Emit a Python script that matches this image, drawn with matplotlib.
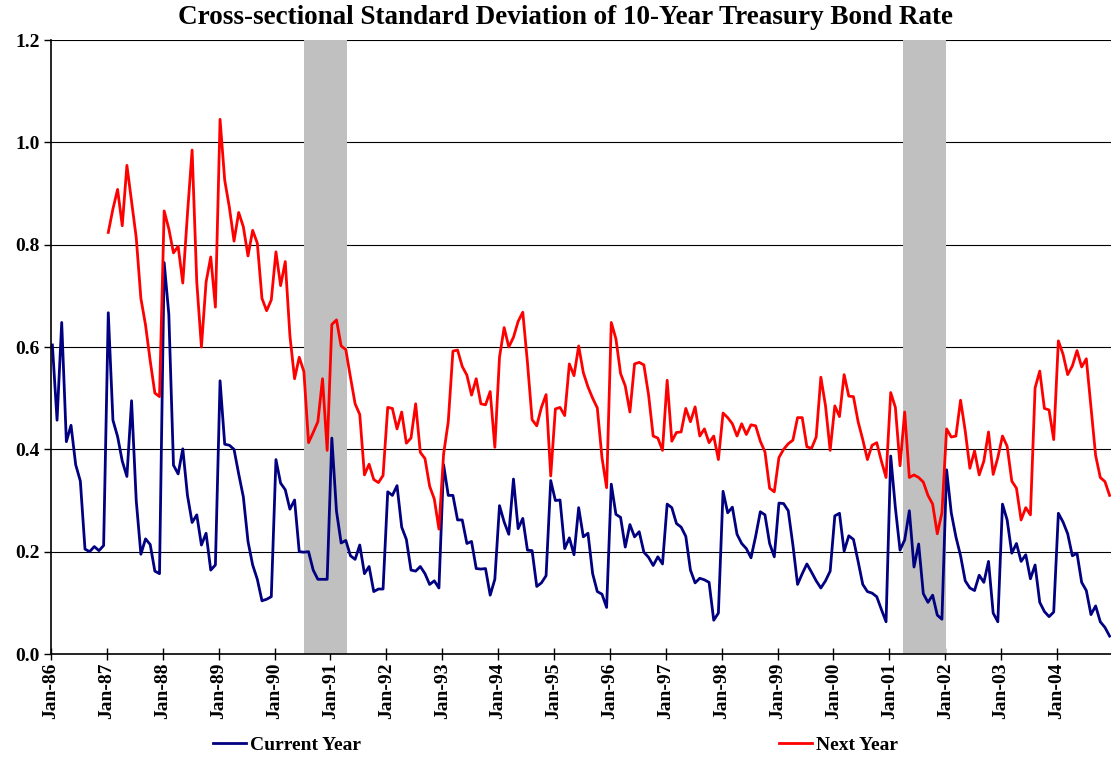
import numpy as np
import matplotlib
matplotlib.use("Agg")
import matplotlib.pyplot as plt

# monthly data, Jan-86 .. Dec-04
current_year = [
    0.604, 0.457, 0.648, 0.415, 0.447, 0.370, 0.338, 0.205, 0.200, 0.210, 0.202, 0.212,
    0.667, 0.457, 0.425, 0.377, 0.347, 0.495, 0.300, 0.195, 0.225, 0.214, 0.162, 0.157,
    0.765, 0.664, 0.369, 0.352, 0.401, 0.310, 0.257, 0.272, 0.213, 0.236, 0.164, 0.174,
    0.534, 0.410, 0.408, 0.400, 0.352, 0.307, 0.220, 0.174, 0.146, 0.104, 0.107, 0.112,
    0.380, 0.334, 0.321, 0.283, 0.301, 0.200, 0.199, 0.200, 0.164, 0.146, 0.146, 0.146,
    0.422, 0.279, 0.217, 0.222, 0.192, 0.185, 0.213, 0.157, 0.171, 0.122, 0.127, 0.127,
    0.317, 0.310, 0.329, 0.248, 0.224, 0.164, 0.162, 0.171, 0.157, 0.136, 0.143, 0.129,
    0.370, 0.310, 0.310, 0.262, 0.262, 0.216, 0.220, 0.167, 0.166, 0.167, 0.115, 0.146,
    0.290, 0.258, 0.234, 0.342, 0.245, 0.265, 0.203, 0.202, 0.132, 0.139, 0.153, 0.339,
    0.300, 0.301, 0.206, 0.227, 0.194, 0.286, 0.229, 0.236, 0.157, 0.122, 0.117, 0.091,
    0.332, 0.273, 0.267, 0.209, 0.253, 0.229, 0.239, 0.199, 0.189, 0.173, 0.190, 0.176,
    0.293, 0.286, 0.255, 0.248, 0.230, 0.164, 0.139, 0.148, 0.145, 0.140, 0.066, 0.080,
    0.318, 0.276, 0.287, 0.234, 0.216, 0.206, 0.188, 0.230, 0.278, 0.272, 0.216, 0.190,
    0.295, 0.294, 0.280, 0.213, 0.136, 0.157, 0.176, 0.160, 0.143, 0.129, 0.143, 0.162,
    0.270, 0.275, 0.201, 0.231, 0.224, 0.181, 0.136, 0.122, 0.119, 0.112, 0.087, 0.063,
    0.387, 0.286, 0.203, 0.223, 0.280, 0.170, 0.215, 0.118, 0.101, 0.115, 0.076, 0.068,
    0.360, 0.276, 0.229, 0.192, 0.143, 0.129, 0.124, 0.154, 0.140, 0.181, 0.080, 0.063,
    0.293, 0.262, 0.197, 0.216, 0.181, 0.194, 0.147, 0.174, 0.101, 0.083, 0.073, 0.082,
    0.275, 0.258, 0.235, 0.192, 0.197, 0.140, 0.124, 0.077, 0.094, 0.063, 0.052, 0.035,
]

# starts Jan-87
next_year = [
    0.824, 0.870, 0.908, 0.837, 0.955, 0.885, 0.814, 0.695, 0.643, 0.573, 0.510, 0.503,
    0.866, 0.831, 0.784, 0.797, 0.725, 0.860, 0.985, 0.727, 0.600, 0.727, 0.776, 0.678,
    1.045, 0.926, 0.873, 0.807, 0.863, 0.835, 0.778, 0.828, 0.803, 0.695, 0.671, 0.692,
    0.786, 0.720, 0.767, 0.622, 0.538, 0.580, 0.552, 0.413, 0.433, 0.454, 0.538, 0.398,
    0.644, 0.653, 0.602, 0.595, 0.541, 0.489, 0.468, 0.350, 0.371, 0.341, 0.335, 0.349,
    0.482, 0.480, 0.440, 0.473, 0.412, 0.422, 0.489, 0.394, 0.382, 0.328, 0.303, 0.244,
    0.391, 0.454, 0.592, 0.594, 0.562, 0.545, 0.506, 0.538, 0.489, 0.487, 0.513, 0.404,
    0.580, 0.638, 0.600, 0.619, 0.650, 0.668, 0.570, 0.458, 0.446, 0.482, 0.507, 0.348,
    0.479, 0.482, 0.466, 0.567, 0.544, 0.602, 0.550, 0.522, 0.500, 0.481, 0.384, 0.325,
    0.648, 0.616, 0.548, 0.524, 0.473, 0.567, 0.570, 0.565, 0.507, 0.426, 0.422, 0.398,
    0.535, 0.416, 0.433, 0.434, 0.480, 0.454, 0.483, 0.426, 0.440, 0.413, 0.426, 0.380,
    0.471, 0.462, 0.450, 0.426, 0.450, 0.429, 0.448, 0.446, 0.416, 0.395, 0.324, 0.317,
    0.384, 0.400, 0.411, 0.418, 0.462, 0.462, 0.405, 0.402, 0.424, 0.541, 0.485, 0.398,
    0.485, 0.464, 0.546, 0.504, 0.503, 0.454, 0.419, 0.380, 0.408, 0.413, 0.377, 0.345,
    0.511, 0.482, 0.368, 0.473, 0.345, 0.350, 0.345, 0.336, 0.310, 0.293, 0.235, 0.276,
    0.440, 0.424, 0.426, 0.496, 0.436, 0.363, 0.397, 0.350, 0.377, 0.434, 0.351, 0.384,
    0.426, 0.406, 0.338, 0.324, 0.262, 0.286, 0.272, 0.520, 0.553, 0.480, 0.477, 0.419,
    0.612, 0.586, 0.546, 0.563, 0.593, 0.561, 0.577, 0.483, 0.388, 0.345, 0.337, 0.310,
]

years = ["86", "87", "88", "89", "90", "91", "92", "93", "94", "95",
         "96", "97", "98", "99", "00", "01", "02", "03", "04"]
tick_labels = ["Jan-" + y for y in years]

# recessions (month index)
recessions = [(54.0, 63.2), (182.6, 191.8)]

plt.rcParams["font.family"] = ["Liberation Serif", "DejaVu Serif"]
plt.rcParams["font.weight"] = "bold"

fig = plt.figure(figsize=(11.11, 7.61), dpi=100)
ax = fig.add_axes([0.0459, 0.1406, 0.9541, 0.8068])

m_cur = np.arange(len(current_year))
m_next = np.arange(12, 12 + len(next_year))

for a, b in recessions:
    ax.axvspan(a, b, color="#c0c0c0", lw=0, zorder=1)

ax.plot(m_cur, current_year, color="#000080", lw=2.0, label="Current Year", zorder=3)
ax.plot(m_next, next_year, color="#ff0000", lw=2.0, label="Next Year", zorder=3)

ax.set_xlim(-0.3, 227.3)
ax.set_ylim(0, 1.2)
ax.set_yticks(np.arange(0, 1.21, 0.2))
ax.set_yticklabels([f"{v:.1f}" for v in np.arange(0, 1.21, 0.2)], fontsize=14, fontweight="bold")
ax.set_xticks(np.arange(0, 228, 12) - 0.3)
ax.set_xticklabels(tick_labels, rotation=90, fontsize=14, fontweight="bold")
ax.tick_params(axis="x", direction="inout", length=8, width=1, pad=2)
ax.tick_params(axis="y", direction="out", length=5, width=1, pad=3)

ax.grid(axis="y", color="black", lw=0.8, zorder=0)
ax.set_axisbelow(True)
for s in ["top", "right"]:
    ax.spines[s].set_visible(False)
for s in ["left", "bottom"]:
    ax.spines[s].set_linewidth(1.2)
    ax.spines[s].set_zorder(4)

fig.text(566 / 1111, 1 - 17 / 761, "Cross-sectional Standard Deviation of 10-Year Treasury Bond Rate",
         ha="center", va="center", fontsize=19.5, fontweight="bold")

fig.legend(loc="center", bbox_to_anchor=(0.5, 1 - 745 / 761), ncol=2, frameon=False,
           columnspacing=21.5, handlelength=1.7, handletextpad=0.2,
           prop={"weight": "bold", "size": 14})

fig.savefig("out.png", dpi=100)
